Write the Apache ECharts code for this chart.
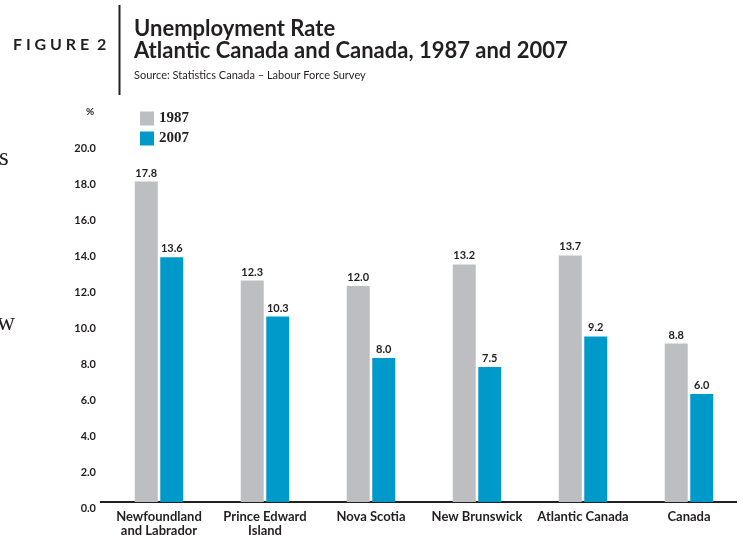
<!DOCTYPE html>
<html>
<head>
<meta charset="utf-8">
<script src="https://cdn.jsdelivr.net/npm/echarts@6/dist/echarts.min.js"></script>
<style>
  html, body { margin: 0; padding: 0; background: #fff; }
  #chart { width: 743px; height: 535px; }
</style>
</head>
<body>
<div id="chart"></div>
<script>
// categories and values
var regions = ['Newfoundland\nand Labrador', 'Prince Edward\nIsland', 'Nova Scotia', 'New Brunswick', 'Atlantic Canada', 'Canada'];
var rate1987 = [17.8, 12.3, 12.0, 13.2, 13.7, 8.8];
var rate2007 = [13.6, 10.3, 8.0, 7.5, 9.2, 6.0];
var yearNames = ['1987', '2007'];

var ink = '#231f20';
var sans = 'Lato, "Open Sans", sans-serif';

var chart = echarts.init(document.getElementById('chart'));

var barLabel = {
    show: true,
    position: 'top',
    distance: 3,
    color: ink,
    fontFamily: sans,
    fontWeight: 'bold',
    fontSize: 11,
    formatter: function (p) { return p.value.toFixed(1); }
};

var option = {
    backgroundColor: '#fff',
    animation: false,
    grid: { left: 106, right: 1, top: 142, bottom: 33, containLabel: false, outerBoundsMode: 'none' },
    legend: {
        data: yearNames,
        orient: 'vertical',
        left: 135,
        top: 106,
        itemWidth: 14,
        itemHeight: 14,
        itemGap: 5,
        icon: 'rect',
        textStyle: { color: ink, fontFamily: '"Liberation Serif", serif', fontWeight: 'bold', fontSize: 15, padding: [2, 0, 0, 0] }
    },
    xAxis: {
        type: 'category',
        data: regions,
        axisLine: { show: false },
        axisTick: { show: false },
        axisLabel: {
            color: ink,
            fontFamily: sans,
            fontWeight: 'bold',
            fontSize: 13,
            lineHeight: 14,
            margin: 8,
            interval: 0
        }
    },
    yAxis: {
        type: 'value',
        min: 0,
        max: 20,
        interval: 2,
        splitLine: { show: false },
        axisLine: { show: false },
        axisTick: { show: false },
        axisLabel: {
            color: ink,
            fontFamily: sans,
            fontWeight: 'bold',
            fontSize: 11,
            margin: 10,
            verticalAlign: 'top',
            padding: [1, 0, 0, 0],
            formatter: function (v) { return v.toFixed(1); }
        }
    },
    series: [
        {
            name: yearNames[0],
            type: 'bar',
            data: rate1987,
            barWidth: 23,
            barGap: '11%',
            itemStyle: { color: '#bdbec2' },
            label: barLabel
        },
        {
            name: yearNames[1],
            type: 'bar',
            data: rate2007,
            barWidth: 23,
            itemStyle: { color: '#009aca' },
            label: barLabel
        }
    ],
    graphic: [
        // baseline of the plot
        { type: 'line', shape: { x1: 100, y1: 502, x2: 737, y2: 502 }, style: { stroke: ink, lineWidth: 2 } },
        // divider next to the figure number
        { type: 'line', shape: { x1: 119.5, y1: 5, x2: 119.5, y2: 95 }, style: { stroke: ink, lineWidth: 2 } },
        { type: 'text', left: 13, top: 37, style: { text: 'F I G U R E  2', fill: ink, font: 'bold 16px ' + sans } },
        { type: 'text', left: 134, top: 18, style: { text: 'Unemployment Rate', fill: ink, font: 'bold 22px ' + sans } },
        { type: 'text', left: 134, top: 40, style: { text: 'Atlantic Canada and Canada, 1987 and 2007', fill: ink, font: 'bold 22px ' + sans } },
        { type: 'text', left: 134, top: 70, style: { text: 'Source: Statistics Canada \u2013 Labour Force Survey', fill: ink, font: '11px ' + sans } },
        { type: 'text', left: 86, top: 107, style: { text: '%', fill: ink, font: 'bold 10px ' + sans } },
        { type: 'text', left: -1, top: 146, style: { text: 's', fill: ink, font: '25px "Liberation Serif", serif' } },
        { type: 'text', left: -3, top: 311, style: { text: 'w', fill: ink, font: '25px "Liberation Serif", serif' } }
    ]
};

chart.setOption(option);
</script>
</body>
</html>
